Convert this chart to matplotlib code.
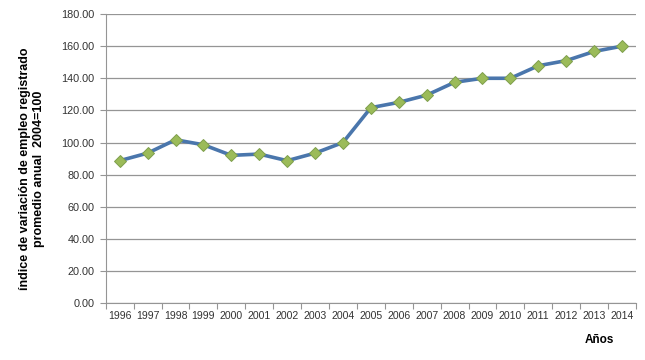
import numpy as np
import matplotlib.pyplot as plt

# Datos
anios = ['1996', '1997', '1998', '1999', '2000', '2001', '2002', '2003', '2004', '2005',
         '2006', '2007', '2008', '2009', '2010', '2011', '2012', '2013', '2014']
indice = [88.7, 93.4, 101.7, 98.6, 92.0, 92.8, 88.7, 93.4, 100.0, 121.7,
          125.0, 129.5, 137.5, 140.0, 140.0, 147.8, 151.0, 156.7, 160.0]
yticks = [0, 20, 40, 60, 80, 100, 120, 140, 160, 180]

plt.rcParams['font.family'] = ['Liberation Sans', 'DejaVu Sans']

fig = plt.figure(figsize=(6.45, 3.6), dpi=100)
ax = fig.add_axes([0.164, 0.158, 0.822, 0.803])

x = np.arange(len(anios))
ax.plot(x, indice, color='#4A76AC', lw=2.6, zorder=3,
        marker='D', ms=6, mfc='#9BBB59', mec='#7E9F4C', mew=0.7)

ax.set_xlim(-0.5, len(anios) - 0.5)
ax.set_ylim(0, 180)
ax.set_yticks(yticks)
ax.set_yticklabels(['%.2f' % v for v in yticks], fontsize=7.8, color='#333333')
ax.yaxis.grid(True, color='#959595', lw=0.9)
ax.set_axisbelow(True)

# Marcas entre categorías, etiquetas en el centro
ax.set_xticks(np.arange(len(anios) + 1) - 0.5)
ax.set_xticklabels([])
ax.set_xticks(x, minor=True)
ax.set_xticklabels(anios, minor=True, fontsize=7.6, color='#333333')
ax.tick_params(axis='x', which='minor', length=0, pad=6)
ax.tick_params(axis='x', which='major', length=4, color='#959595', direction='out')
ax.tick_params(axis='y', length=4, color='#959595', pad=4)

for s in ['top', 'right']:
    ax.spines[s].set_visible(False)
for s in ['left', 'bottom']:
    ax.spines[s].set_color('#959595')

fig.text(0.05, 0.53, 'índice de variación de empleo registrado\npromedio anual  2004=100',
         rotation=90, ha='center', va='center', fontsize=9, fontweight='bold',
         linespacing=1.25)
fig.text(0.93, 0.055, 'Años', ha='center', va='center', fontsize=8.5, fontweight='bold')

fig.savefig('out.png', dpi=100)
